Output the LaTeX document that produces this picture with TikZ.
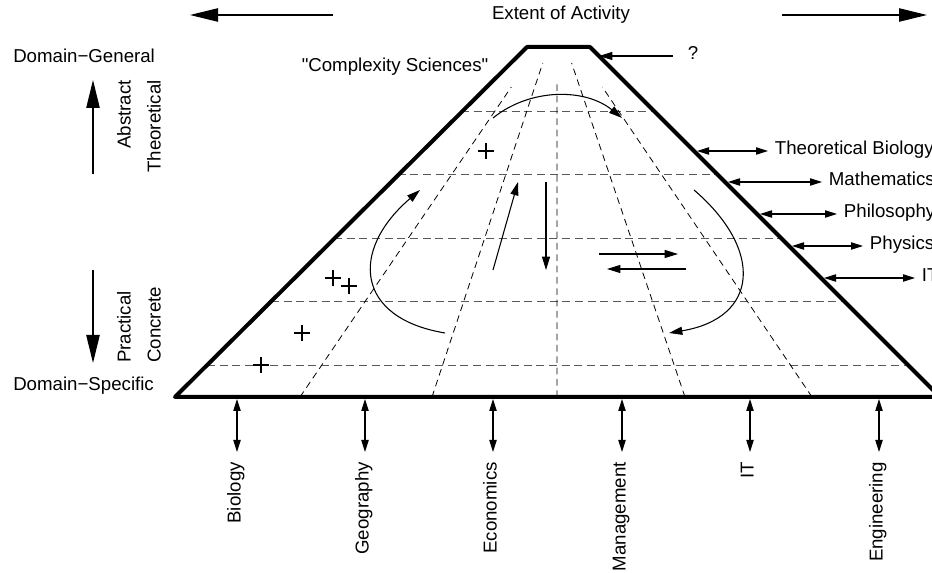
\documentclass[tikz,border=0pt]{standalone}
\usepackage{fontspec}
\setmainfont{Liberation Sans}[Ligatures=TeXOff]
\usepackage{tikz}
\usetikzlibrary{arrows.meta, calc}

\begin{document}
\begin{tikzpicture}[x=0.75pt, y=-0.75pt,
        every node/.style={font=\fontsize{14}{16}\selectfont, inner sep=0pt},
        frame/.style={line width=3pt, line join=round},
        level/.style={dash pattern=on 6pt off 3.5pt, line width=0.7pt, draw=black!65},
        ray/.style={dash pattern=on 5pt off 3.5pt, line width=0.6pt},
        flow/.style={-{Triangle[length=10pt, width=6pt]}, line width=0.8pt},
        bigarrow/.style={-{Triangle[length=21pt, width=10pt]}, line width=1pt},
        link/.style={{Triangle[length=9pt, width=5.5pt]}-{Triangle[length=9pt, width=5.5pt]}, line width=0.8pt},
        field/.style={rotate=90, anchor=mid east, inner xsep=7.5pt},
        topic/.style={anchor=mid west, inner xsep=5pt},
        plusmark/.pic={\draw[line width=0.9pt] (-8,0) -- (8,0) (0,-8) -- (0,8);}
    ]
    \useasboundingbox (0,0) rectangle (932,573);
    \clip (0,0) rectangle (932,573);

    % Pyramid corners
    \coordinate (bl) at (175,397);
    \coordinate (tl) at (527,47);
    \coordinate (tr) at (590,47);
    \coordinate (br) at (940,397);
    \coordinate (apex) at (557,20);

    % Grid
    \foreach \y in {111,174.5,238,301,365}
        \draw[level] ({572-\y},\y) -- ({543+\y},\y);
    \foreach \bx/\ty in {300/87, 432/63, 557/80, 685/63, 812/87}
        \draw[ray] (\bx,397) -- ($(\bx,397)!{(397-\ty)/377}!(apex)$);

    % Pyramid
    \draw[frame] (bl) -- (tl) -- (tr) -- (br) -- cycle;

    % Flows inside
    \draw[flow] (493,118) .. controls (530,88) and (585,88) .. (622,118);
    \draw[flow] (445,333) .. controls (355,318) and (350,250) .. (420,190);
    \draw[flow] (694,190) .. controls (764,250) and (759,318) .. (669,333);
    \draw[flow] (493,270) -- (518,182);
    \draw[flow] (546,182) -- (546,270);
    \draw[flow] (599,254) -- (678,254);
    \draw[flow] (686,269) -- (607,269);

    \foreach \p in {(486,151),(333,278),(349,286),(302,333),(261,365)}
        \pic at \p {plusmark};

    % Top
    \node[anchor=base] (extent) at (561,20) {Extent of Activity};
    \coordinate (extl-s) at (333,15);
    \coordinate (extl-e) at (190,15);
    \coordinate (extr-s) at (782,15);
    \coordinate (extr-e) at (927,15);
    \draw[bigarrow] (extl-s) -- (extl-e);
    \draw[bigarrow] (extr-s) -- (extr-e);

    \node[anchor=base] (complexity) at (395,72) {"Complexity Sciences"};
    \node[topic, inner xsep=11pt] (query) at (673,56) {?};
    \coordinate (query-e) at (599,56);
    \draw[flow] (query.mid west) -- (query-e);

    % Left side
    \node[anchor=base west] (general) at (13,63) {Domain−General};
    \node[anchor=base west] (specific) at (13,391) {Domain−Specific};
    \coordinate (up-s) at (93,174);
    \coordinate (up-e) at (93,80);
    \coordinate (down-s) at (93,270);
    \coordinate (down-e) at (93,363);
    \draw[bigarrow] (up-s) -- (up-e);
    \draw[bigarrow] (down-s) -- (down-e);
    \node[rotate=90, anchor=mid east] (abstract) at (127,80) {Abstract};
    \node[rotate=90, anchor=mid east] (theoretical) at (157,80) {Theoretical};
    \node[rotate=90, anchor=mid west] (practical) at (127,363) {Practical};
    \node[rotate=90, anchor=mid west] (concrete) at (157,363) {Concrete};

    % Right side
    \foreach \y/\xe/\name/\lab in {151/768/tbio/Theoretical Biology, 182/822/math/Mathematics, 214/837/phil/Philosophy, 246/863/phys/Physics, 278/915/itr/IT} {
        \coordinate (\name-s) at ({546+\y},\y);
        \node[topic] (\name) at (\xe,\y) {\lab};
        \draw[link] (\name-s) -- (\name.mid west);
    }

    % Bottom
    \foreach \x/\name/\lab in {237/bio/Biology, 365/geo/Geography, 493/eco/Economics, 622/mgmt/Management, 750/itb/IT, 879/eng/Engineering} {
        \coordinate (\name-s) at (\x,399);
        \node[field] (\name) at (\x,452) {\lab};
        \draw[link] (\name-s) -- (\name.mid east);
    }
\end{tikzpicture}
\end{document}
